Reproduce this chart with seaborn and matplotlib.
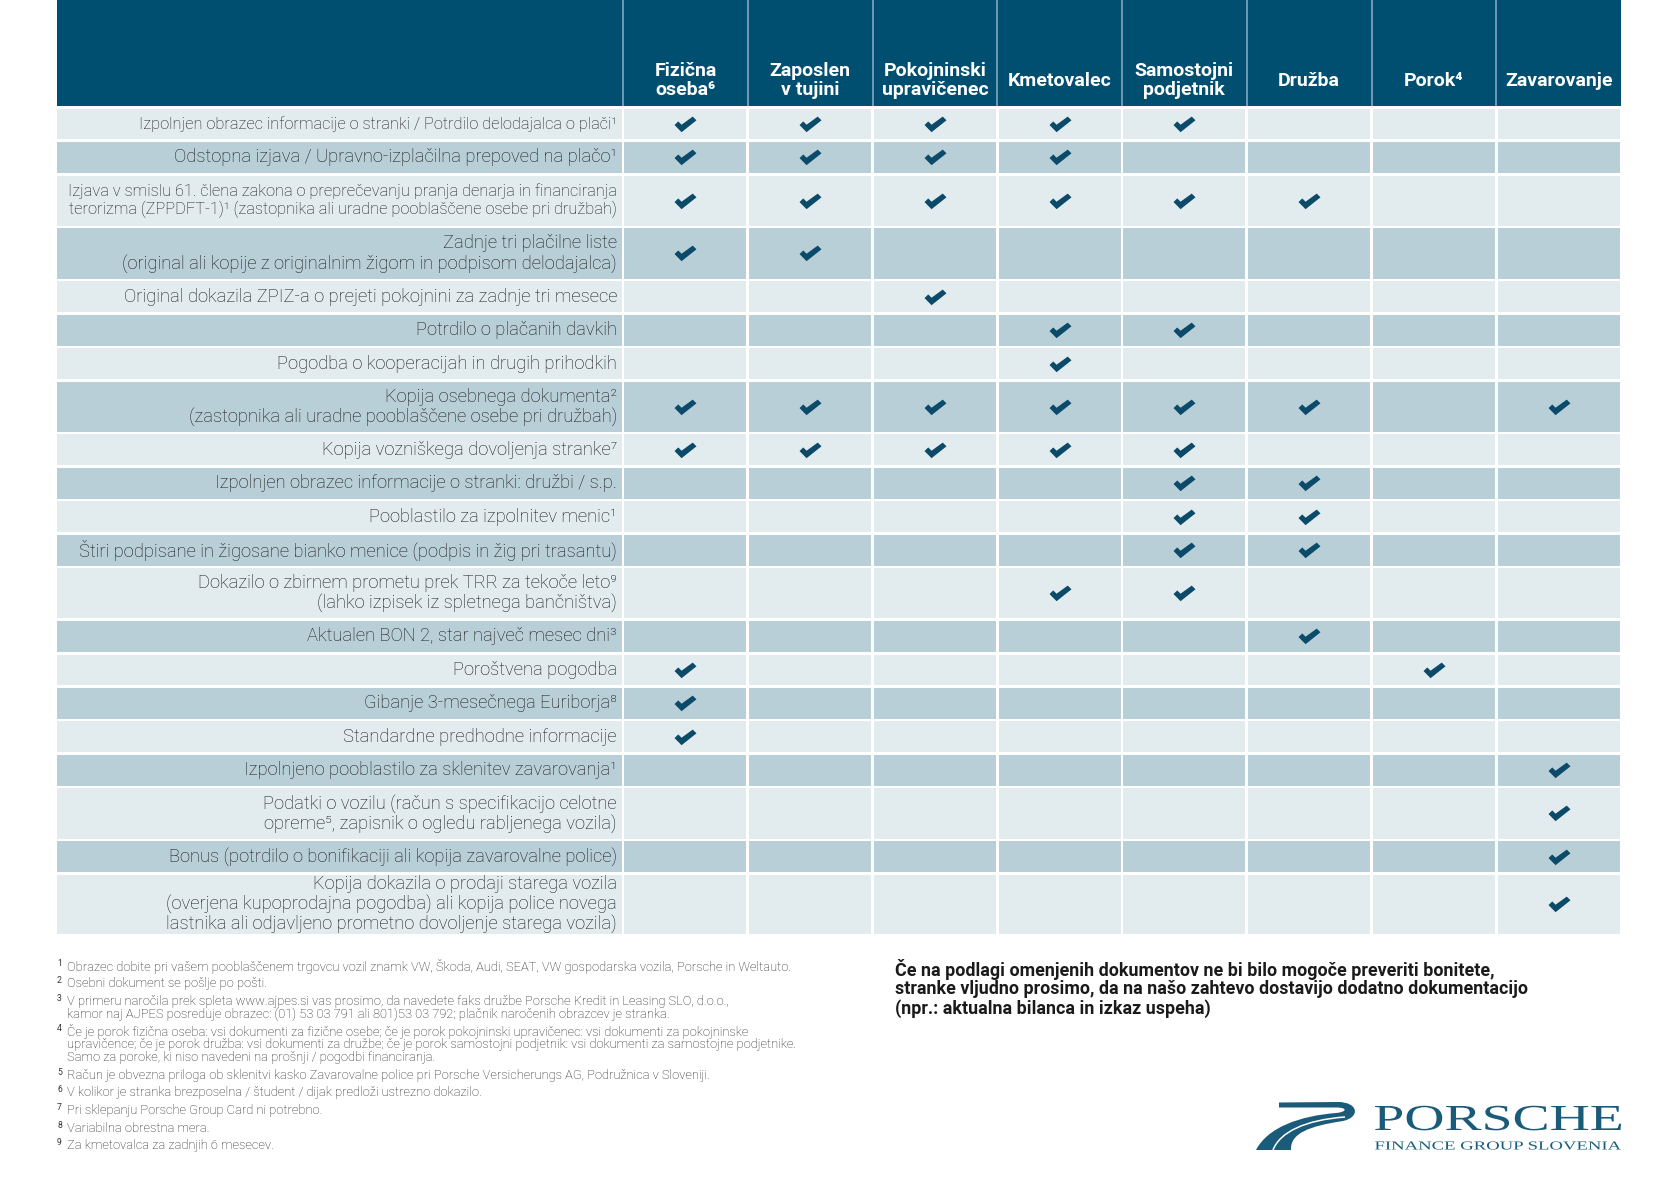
import matplotlib
matplotlib.use("Agg")
import matplotlib.pyplot as plt
from matplotlib.path import Path
from matplotlib.patches import PathPatch
from matplotlib.textpath import TextPath
from matplotlib.font_manager import FontProperties
from matplotlib.transforms import Affine2D
import numpy as np
import pandas as pd
import seaborn as sns

# --- data ---------------------------------------------------------------
columns = [
    "Fizična\noseba⁶", "Zaposlen\nv tujini", "Pokojninski\nupravičenec",
    "Kmetovalec", "Samostojni\npodjetnik", "Družba", "Porok⁴", "Zavarovanje",
]

documents = [
    "Izpolnjen obrazec informacije o stranki / Potrdilo delodajalca o plači¹",
    "Odstopna izjava / Upravno-izplačilna prepoved na plačo¹",
    "Izjava v smislu 61. člena zakona o preprečevanju pranja denarja in financiranja\n"
    "terorizma (ZPPDFT-1)¹ (zastopnika ali uradne pooblaščene osebe pri družbah)",
    "Zadnje tri plačilne liste\n(original ali kopije z originalnim žigom in podpisom delodajalca)",
    "Original dokazila ZPIZ-a o prejeti pokojnini za zadnje tri mesece",
    "Potrdilo o plačanih davkih",
    "Pogodba o kooperacijah in drugih prihodkih",
    "Kopija osebnega dokumenta²\n(zastopnika ali uradne pooblaščene osebe pri družbah)",
    "Kopija vozniškega dovoljenja stranke⁷",
    "Izpolnjen obrazec informacije o stranki: družbi / s.p.",
    "Pooblastilo za izpolnitev menic¹",
    "Štiri podpisane in žigosane bianko menice (podpis in žig pri trasantu)",
    "Dokazilo o zbirnem prometu prek TRR za tekoče leto⁹\n(lahko izpisek iz spletnega bančništva)",
    "Aktualen BON 2, star največ mesec dni³",
    "Poroštvena pogodba",
    "Gibanje 3-mesečnega Euriborja⁸",
    "Standardne predhodne informacije",
    "Izpolnjeno pooblastilo za sklenitev zavarovanja¹",
    "Podatki o vozilu (račun s specifikacijo celotne\nopreme⁵, zapisnik o ogledu rabljenega vozila)",
    "Bonus (potrdilo o bonifikaciji ali kopija zavarovalne police)",
    "Kopija dokazila o prodaji starega vozila\n(overjena kupoprodajna pogodba) ali kopija police novega\n"
    "lastnika ali odjavljeno prometno dovoljenje starega vozila)",
]

# 1 = document required for that client type
required = [
    [1, 1, 1, 1, 1, 0, 0, 0],
    [1, 1, 1, 1, 0, 0, 0, 0],
    [1, 1, 1, 1, 1, 1, 0, 0],
    [1, 1, 0, 0, 0, 0, 0, 0],
    [0, 0, 1, 0, 0, 0, 0, 0],
    [0, 0, 0, 1, 1, 0, 0, 0],
    [0, 0, 0, 1, 0, 0, 0, 0],
    [1, 1, 1, 1, 1, 1, 0, 1],
    [1, 1, 1, 1, 1, 0, 0, 0],
    [0, 0, 0, 0, 1, 1, 0, 0],
    [0, 0, 0, 0, 1, 1, 0, 0],
    [0, 0, 0, 0, 1, 1, 0, 0],
    [0, 0, 0, 1, 1, 0, 0, 0],
    [0, 0, 0, 0, 0, 1, 0, 0],
    [1, 0, 0, 0, 0, 0, 1, 0],
    [1, 0, 0, 0, 0, 0, 0, 0],
    [1, 0, 0, 0, 0, 0, 0, 0],
    [0, 0, 0, 0, 0, 0, 0, 1],
    [0, 0, 0, 0, 0, 0, 0, 1],
    [0, 0, 0, 0, 0, 0, 0, 1],
    [0, 0, 0, 0, 0, 0, 0, 1],
]

small_label_rows = [0, 2]

footnotes = [
    ("1", ["Obrazec dobite pri vašem pooblaščenem trgovcu vozil znamk VW, Škoda, Audi, SEAT, VW gospodarska vozila, Porsche in Weltauto."]),
    ("2", ["Osebni dokument se pošlje po pošti."]),
    ("3", ["V primeru naročila prek spleta www.ajpes.si vas prosimo, da navedete faks družbe Porsche Kredit in Leasing SLO, d.o.o.,",
           "kamor naj AJPES posreduje obrazec: (01) 53 03 791 ali 801)53 03 792; plačnik naročenih obrazcev je stranka."]),
    ("4", ["Če je porok fizična oseba: vsi dokumenti za fizične osebe; če je porok pokojninski upravičenec: vsi dokumenti za pokojninske",
           "upravičence; če je porok družba: vsi dokumenti za družbe; če je porok samostojni podjetnik: vsi dokumenti za samostojne podjetnike.",
           "Samo za poroke, ki niso navedeni na prošnji / pogodbi financiranja."]),
    ("5", ["Račun je obvezna priloga ob sklenitvi kasko Zavarovalne police pri Porsche Versicherungs AG, Podružnica v Sloveniji."]),
    ("6", ["V kolikor je stranka brezposelna / študent / dijak predloži ustrezno dokazilo."]),
    ("7", ["Pri sklepanju Porsche Group Card ni potrebno."]),
    ("8", ["Variabilna obrestna mera."]),
    ("9", ["Za kmetovalca za zadnjih 6 mesecev."]),
]

note_lines = [
    "Če na podlagi omenjenih dokumentov ne bi bilo mogoče preveriti bonitete,",
    "stranke vljudno prosimo, da na našo zahtevo dostavijo dodatno dokumentacijo",
    "(npr.: aktualna bilanca in izkaz uspeha)",
]

# --- style ----------------------------------------------------------------
HEADER = "#004E70"
LIGHT = "#E2EBEE"
DARK = "#B9CFD8"
CHECK = "#0B4A68"
LOGO = "#1A5B7A"

sns.set_theme(style="white")
plt.rcParams["font.family"] = ["Roboto", "DejaVu Sans"]

W, H = 1678, 1190
TABLE_LEFT = 57
LABEL_RIGHT = 623
COL_W = 124.75
HEADER_H = 106
GAP = 2.6
ROW_H = {1: 33.45, 2: 52.85, 3: 62.0}

# heavy check mark used as scatter marker
CHECK_PATH = Path(
    [(-1.0, -0.05), (-0.66, 0.28), (-0.36, -0.02), (0.66, 0.72),
     (1.0, 0.38), (-0.36, -0.70), (-1.0, -0.05)],
    [Path.MOVETO] + [Path.LINETO] * 5 + [Path.CLOSEPOLY],
)

fig = plt.figure(figsize=(W / 100, H / 100), dpi=100)
ax = fig.add_axes([0, 0, 1, 1])

# row geometry from number of text lines
heights = np.array([ROW_H[d.count("\n") + 1] for d in documents])
tops = HEADER_H + np.concatenate([[0], np.cumsum(heights)[:-1]])
cell_h = heights - GAP
centers = tops + GAP + cell_h / 2
row_colors = [LIGHT if i % 2 == 0 else DARK for i in range(len(documents))]

col_lefts = LABEL_RIGHT + COL_W * np.arange(len(columns))
col_centers = col_lefts + COL_W / 2
table_right = LABEL_RIGHT + COL_W * len(columns)

# header band
ax.barh(HEADER_H / 2, table_right - TABLE_LEFT, left=TABLE_LEFT, height=HEADER_H,
        color=HEADER, linewidth=0)
ax.vlines(col_lefts, 0, HEADER_H, color="white", alpha=0.55, linewidth=1.1)
for x, name in zip(col_centers, columns):
    ax.text(x, 80.5, name, ha="center", va="center", color="white", fontsize=14,
            fontweight="bold", linespacing=1.08)

# body cells
ax.barh(centers, LABEL_RIGHT - TABLE_LEFT - GAP / 2, left=TABLE_LEFT, height=cell_h,
        color=row_colors, linewidth=0)
for left in col_lefts:
    ax.barh(centers, COL_W - GAP, left=left + GAP / 2, height=cell_h,
            color=row_colors, linewidth=0)

for i, (y, label) in enumerate(zip(centers, documents)):
    size = 11.8 if i in small_label_rows else 13.2
    ax.text(LABEL_RIGHT - 6, y, label, ha="right", va="center", color="#161616",
            fontsize=size, fontweight="light", linespacing=1.08)

# check marks
checks = pd.DataFrame(
    [(col_centers[j], centers[i]) for i, row in enumerate(required)
     for j, v in enumerate(row) if v],
    columns=["x", "y"],
)
sns.scatterplot(data=checks, x="x", y="y", marker=CHECK_PATH, s=250, color=CHECK,
                linewidth=0, legend=False, ax=ax)

# footnotes
y = 966
for num, lines in footnotes:
    ax.text(57, y - 3, num, ha="left", va="center", fontsize=6.2, color="#333333")
    for line in lines:
        ax.text(67, y, line, ha="left", va="center", fontsize=9.3, color="#1e1e1e",
                fontweight="light")
        y += 13.0
    y += 4.6

for k, line in enumerate(note_lines):
    ax.text(895, 969 + k * 19.8, line, ha="left", va="center", fontsize=12.9,
            fontweight="bold", color="#1a1a1a")

# logo
def logo_text(s, x0, x1, baseline, cap_h):
    prop = FontProperties(family="Liberation Serif")
    tp = TextPath((0, 0), s, size=100, prop=prop)
    cap = TextPath((0, 0), "H", size=100, prop=prop).get_extents().height
    bb = tp.get_extents()
    tr = (Affine2D().translate(-bb.x0, 0)
          .scale((x1 - x0) / bb.width, -cap_h / cap).translate(x0, baseline))
    ax.add_patch(PathPatch(tr.transform_path(tp), color=LOGO, linewidth=0))

logo_text("PORSCHE", 1375, 1621, 1130, 24)
logo_text("FINANCE GROUP SLOVENIA", 1375, 1621, 1149.5, 8)

swoosh = Path(
    [(1279, 1102.5), (1338, 1102),
     (1358, 1102), (1361, 1117), (1343, 1121),
     (1310, 1126), (1290, 1133), (1291, 1150),
     (1256, 1150),
     (1268, 1127), (1300, 1116), (1336, 1113),
     (1347, 1112), (1348, 1107.5), (1336, 1107.5),
     (1279, 1107.5), (1279, 1102.5)],
    [Path.MOVETO, Path.LINETO,
     Path.CURVE4, Path.CURVE4, Path.CURVE4,
     Path.CURVE4, Path.CURVE4, Path.CURVE4,
     Path.LINETO,
     Path.CURVE4, Path.CURVE4, Path.CURVE4,
     Path.CURVE4, Path.CURVE4, Path.CURVE4,
     Path.LINETO, Path.CLOSEPOLY],
)
ax.add_patch(PathPatch(swoosh, facecolor=LOGO, linewidth=0))
stripe = Path([(1345, 1117), (1305, 1120), (1280, 1132), (1273, 1150)],
              [Path.MOVETO, Path.CURVE4, Path.CURVE4, Path.CURVE4])
ax.add_patch(PathPatch(stripe, facecolor="none", edgecolor="white", linewidth=1.1))

ax.set_xlim(0, W)
ax.set_ylim(H, 0)
ax.axis("off")

fig.savefig("out.png", dpi=100, facecolor="white")
